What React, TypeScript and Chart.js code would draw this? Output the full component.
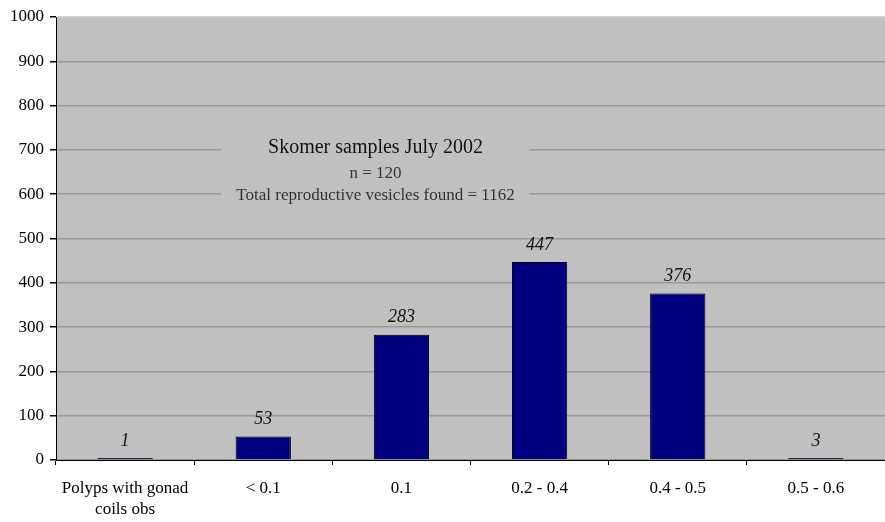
import React, { useEffect, useRef } from "react";
import { Chart, registerables } from "chart.js";

Chart.register(...registerables);

const categories: (string | string[])[] = [
  ["Polyps with gonad", "coils obs"],
  "< 0.1",
  "0.1",
  "0.2 - 0.4",
  "0.4 - 0.5",
  "0.5 - 0.6",
];
const counts = [1, 53, 283, 447, 376, 3];
const titleLine = "Skomer samples July 2002";
const subLines = ["n = 120", "Total reproductive vesicles found = 1162"];

const FONT = "'Liberation Serif', 'Times New Roman', serif";

const bgPlugin = {
  id: "plotBg",
  beforeDraw(chart: any) {
    const { ctx, chartArea } = chart;
    ctx.save();
    ctx.fillStyle = "#c0c0c0";
    ctx.fillRect(chartArea.left, chartArea.top, chartArea.right - chartArea.left, chartArea.bottom - chartArea.top);
    ctx.restore();
  },
};

const titleBoxPlugin = {
  id: "titleBox",
  beforeDatasetsDraw(chart: any) {
    const { ctx } = chart;
    const y = chart.scales.y;
    const x = chart.scales.x;
    const cx = (x.getPixelForValue(2) + x.getPixelForValue(3)) / 2 - 95;
    const top = y.getPixelForValue(735);
    const bot = y.getPixelForValue(570);
    ctx.save();
    ctx.fillStyle = "#c0c0c0";
    ctx.fillRect(cx - 154, top, 308, bot - top);
    ctx.textAlign = "center";
    ctx.textBaseline = "middle";
    ctx.fillStyle = "#111";
    ctx.font = `20px ${FONT}`;
    ctx.fillText(titleLine, cx, y.getPixelForValue(700) - 2);
    ctx.fillStyle = "#333";
    ctx.font = `17px ${FONT}`;
    ctx.fillText(subLines[0], cx, y.getPixelForValue(650) + 1);
    ctx.fillText(subLines[1], cx, y.getPixelForValue(600) + 1);
    ctx.restore();
  },
};

const valueLabelPlugin = {
  id: "valueLabels",
  afterDatasetsDraw(chart: any) {
    const { ctx } = chart;
    const meta = chart.getDatasetMeta(0);
    ctx.save();
    ctx.font = `italic 18px ${FONT}`;
    ctx.fillStyle = "#111";
    ctx.textAlign = "center";
    ctx.textBaseline = "bottom";
    meta.data.forEach((bar: any, i: number) => {
      ctx.fillText(String(counts[i]), bar.x, bar.y - 8);
    });
    ctx.restore();
  },
};

export default function App() {
  const ref = useRef<HTMLCanvasElement>(null);
  useEffect(() => {
    const chart = new Chart(ref.current!, {
      type: "bar",
      data: {
        labels: categories,
        datasets: [
          {
            data: counts,
            backgroundColor: "#000080",
            borderColor: "#000000",
            borderWidth: 1,
            categoryPercentage: 0.4,
            barPercentage: 1,
            minBarLength: 2,
          },
        ],
      },
      options: {
        animation: false,
        responsive: false,
        maintainAspectRatio: false,
        layout: { padding: { top: 17, right: 0, left: 0, bottom: 0 } },
        plugins: {
          legend: { display: false },
          tooltip: { enabled: false },
        },
        scales: {
          x: {
            offset: true,
            grid: {
              offset: true,
              drawOnChartArea: false,
              drawTicks: true,
              tickLength: 5,
              tickColor: "#000",
            },
            border: { color: "#000", width: 1 },
            ticks: {
              color: "#000",
              font: { family: FONT, size: 17, lineHeight: 1.25 },
              padding: 13,
              maxRotation: 0,
              autoSkip: false,
            },
            afterFit: (s: any) => {
              s.height = 62;
            },
          },
          y: {
            min: 0,
            max: 1000,
            ticks: {
              stepSize: 100,
              color: "#000",
              font: { family: FONT, size: 17 },
              padding: 6,
              callback: (v: any) => String(v),
            },
            grid: {
              color: (c: any) => (c.tick && c.tick.value === 1000 ? "#d4d4d4" : "#999999"),
              lineWidth: 1.5,
              tickLength: 6,
              tickColor: "#000",
            },
            border: { color: "#000", width: 1 },
            afterFit: (s: any) => {
              s.width = 56;
            },
          },
        },
      },
      plugins: [bgPlugin, titleBoxPlugin, valueLabelPlugin],
    });
    return () => chart.destroy();
  }, []);
  return (
    <div style={{ position: "fixed", left: 0, top: 0, width: 885, height: 522, background: "#fff" }}>
      <canvas ref={ref} width={885} height={522} style={{ width: 885, height: 522 }} />
    </div>
  );
}
